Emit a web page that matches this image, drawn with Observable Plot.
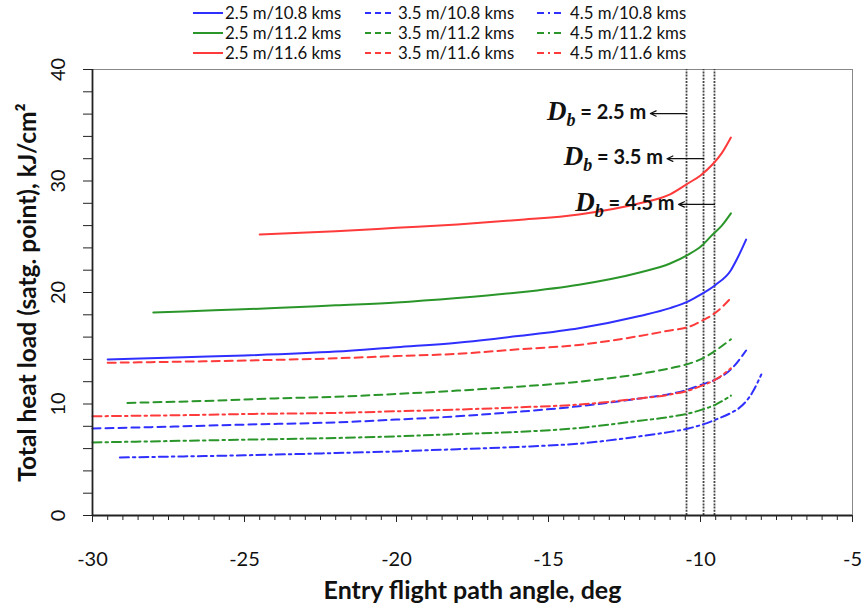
<!DOCTYPE html>
<html>
<head>
<meta charset="utf-8">
<script src="https://cdn.jsdelivr.net/npm/d3@7"></script>
<script src="https://cdn.jsdelivr.net/npm/@observablehq/plot@0.6"></script>
<style>
  html, body { margin: 0; padding: 0; background: #fff; }
  #legend { width: 863px; height: 62px; }
  #chart svg { overflow: visible; display: block; }
</style>
</head>
<body>
<div id="legend"></div>
<div id="chart"></div>
<script>
// ---------- data ----------
const velocities = ["10.8", "11.2", "11.6"];
const diameters = ["2.5", "3.5", "4.5"];

// 2.5 m
const x_25_108 = [-29.5, -27, -25, -22, -20, -18, -16, -14, -12, -11, -10.4, -10, -9.5, -9, -8.8, -8.5];
const y_25_108 = [14.0, 14.2, 14.35, 14.7, 15.1, 15.5, 16.1, 16.8, 17.9, 18.6, 19.2, 19.8, 20.7, 22.0, 23.0, 24.75];
const x_25_112 = [-28, -26, -24, -22, -20, -18, -16, -14, -12, -11, -10.4, -10, -9.6, -9.3, -9.0];
const y_25_112 = [18.2, 18.4, 18.6, 18.85, 19.1, 19.5, 20.0, 20.7, 21.8, 22.6, 23.4, 24.1, 25.2, 26.0, 27.1];
const x_25_116 = [-24.5, -22, -20, -18, -16, -14, -12, -11, -10.4, -10, -9.6, -9.3, -9.0];
const y_25_116 = [25.2, 25.5, 25.8, 26.1, 26.5, 27.0, 28.0, 28.8, 29.8, 30.5, 31.5, 32.5, 33.9];

// 3.5 m
const x_35_108 = [-30, -27, -25, -22, -20, -18, -16, -14, -12, -11, -10.4, -10, -9.5, -9, -8.5];
const y_35_108 = [7.8, 8.0, 8.15, 8.35, 8.6, 8.9, 9.3, 9.8, 10.5, 10.9, 11.3, 11.7, 12.2, 13.1, 14.8];
const x_35_112 = [-28.85, -26, -24, -22, -20, -18, -16, -14, -12, -11, -10.4, -10, -9.5, -9.0];
const y_35_112 = [10.1, 10.3, 10.5, 10.65, 10.9, 11.2, 11.55, 12.0, 12.7, 13.2, 13.6, 14.0, 14.8, 15.8];
const x_35_116 = [-29.5, -27, -25, -22, -20, -18, -16, -14, -12, -11, -10.4, -10, -9.5, -9.0];
const y_35_116 = [13.7, 13.8, 13.9, 14.1, 14.3, 14.5, 14.9, 15.3, 16.1, 16.6, 16.9, 17.4, 18.2, 19.5];

// 4.5 m
const x_45_108 = [-29.1, -27, -25, -22, -20, -18, -16, -14, -12, -11, -10.4, -10, -9.5, -9, -8.7, -8.3, -8.0];
const y_45_108 = [5.2, 5.3, 5.4, 5.6, 5.75, 5.95, 6.15, 6.45, 7.1, 7.5, 7.8, 8.1, 8.6, 9.2, 9.7, 11.0, 12.65];
const x_45_112 = [-30, -27, -25, -22, -20, -18, -16, -14, -12, -11, -10.4, -10, -9.5, -9.0];
const y_45_112 = [6.55, 6.7, 6.8, 6.95, 7.1, 7.3, 7.5, 7.85, 8.5, 8.85, 9.15, 9.45, 9.95, 10.75];
const x_45_116 = [-30, -27, -25, -22, -20, -18, -16, -14, -12, -11, -10.4, -10, -9.5, -9.0];
const y_45_116 = [8.9, 9.0, 9.1, 9.2, 9.35, 9.5, 9.7, 9.95, 10.5, 10.85, 11.2, 11.6, 12.2, 13.2];

// D_b limit lines and their labels
const dbLineX = [-10.46, -9.9, -9.54];
const dbHeadX = [-11.65, -11.1, -10.72];
const dbArrowY = [36.05, 32.0, 27.9];
const dbLabels = ["2.5 m", "3.5 m", "4.5 m"];

const xMajorTicks = [-30, -25, -20, -15, -10, -5];
const xMinorTicks = d3.range(-30, -4.99, 0.5);
const yMajorTicks = [0, 10, 20, 30, 40];
const yMinorTicks = d3.range(0, 40.01, 2);

const xTitle = "Entry flight path angle, deg";
const yTitle = "Total heat load (satg. point), kJ/cm²";

// ---------- build table ----------
const raw = {
  "2.5": {"10.8": [x_25_108, y_25_108], "11.2": [x_25_112, y_25_112], "11.6": [x_25_116, y_25_116]},
  "3.5": {"10.8": [x_35_108, y_35_108], "11.2": [x_35_112, y_35_112], "11.6": [x_35_116, y_35_116]},
  "4.5": {"10.8": [x_45_108, y_45_108], "11.2": [x_45_112, y_45_112], "11.6": [x_45_116, y_45_116]}
};
const rows = [];
for (const d of diameters) for (const v of velocities) {
  const [xs, ys] = raw[d][v];
  xs.forEach((x, i) => rows.push({d, v, name: `${d} m/${v} kms`, x, y: ys[i]}));
}
const arrows = dbLabels.map((label, i) => ({label, x1: dbLineX[i], x2: dbHeadX[i], y: dbArrowY[i]}));

// ---------- styles ----------
const colorOf = {"10.8": "#2f2fff", "11.2": "#2a962a", "11.6": "#ff3a3a"};
const dashOf = {"2.5": null, "3.5": "8,5", "4.5": "9,4,2.5,4"};
const SANS = "Lato, 'Liberation Sans', sans-serif";

// ---------- legend ----------
const leg = d3.select("#legend").append("svg").attr("width", 863).attr("height", 62);
const colX = [193, 365, 537];
const rowY = [13, 33, 53];
diameters.forEach((d, ci) => velocities.forEach((v, ri) => {
  const g = leg.append("g").attr("transform", `translate(${colX[ci]},${rowY[ri]})`);
  g.append("line").attr("x1", 0).attr("x2", ci === 0 ? 30 : 27).attr("y1", 0).attr("y2", 0)
    .attr("stroke", colorOf[v]).attr("stroke-width", 2)
    .attr("stroke-dasharray", dashOf[d] ? (ci === 1 ? "6,4" : "7,4,2,4") : null);
  g.append("text").attr("x", ci === 0 ? 32 : 33).attr("y", 0).attr("dy", "0.36em")
    .attr("font-family", SANS).attr("font-size", 16.8).attr("fill", "#111")
    .text(`${d} m/${v} kms`);
}));

// ---------- plot ----------
const marks = [
  Plot.frame({stroke: "#888", strokeWidth: 1}),
  Plot.ruleX(dbLineX, {x: d => d, y1: 0, y2: 40, stroke: "#444", strokeWidth: 1.8, strokeDasharray: "2,1.2"}),
  ...diameters.map(d => Plot.line(rows.filter(r => r.d === d), {
    x: "x", y: "y", z: "v", stroke: r => colorOf[r.v], strokeWidth: 2,
    strokeDasharray: dashOf[d] || undefined, curve: "monotone-x"
  })),
  Plot.arrow(arrows, {x1: "x1", y1: "y", x2: "x2", y2: "y", stroke: "#111", strokeWidth: 1.2, headLength: 8, headAngle: 50}),
  Plot.text(arrows, {x: "x2", y: "y", text: "label", textAnchor: "end", dx: -4,
    fontSize: 20, fontWeight: "bold", fontFamily: SANS, fill: "#111", className: "dblabel"}),
  Plot.ruleX([-30], {stroke: "#222", strokeWidth: 1.8}),
  Plot.ruleY([0], {stroke: "#222", strokeWidth: 1.8}),
  Plot.axisX({ticks: xMinorTicks, tickSize: 5, tickFormat: () => "", stroke: "#222"}),
  Plot.axisX({ticks: xMajorTicks, tickSize: 7, tickPadding: 29, tickFormat: d => String(d),
    fontSize: 20, fontFamily: SANS, fill: "#111", stroke: "#222", label: null}),
  Plot.axisY({ticks: yMinorTicks, tickSize: 9, tickFormat: () => "", stroke: "#222", label: null}),
  Plot.text(yMajorTicks, {y: d => d, text: d => String(d), frameAnchor: "left", textAnchor: "middle",
    dx: -34, rotate: -90, fontSize: 20, fontFamily: SANS, fill: "#111"}),
  Plot.text([yTitle], {text: d => d, frameAnchor: "left", textAnchor: "middle", dx: -64, rotate: -90,
    fontSize: 24.5, fontWeight: "bold", fontFamily: SANS, fill: "#111"}),
  Plot.text([xTitle], {text: d => d, frameAnchor: "bottom", textAnchor: "middle", dy: 83,
    fontSize: 25, fontWeight: "bold", fontFamily: SANS, fill: "#111"})
];

const chart = Plot.plot({
  width: 863,
  height: 554,
  marginTop: 7,
  marginRight: 11,
  marginBottom: 101,
  marginLeft: 92,
  x: {domain: [-30, -5], axis: null},
  y: {domain: [0, 40], axis: null},
  style: {background: "#fff", fontFamily: SANS},
  marks
});
document.getElementById("chart").appendChild(chart);

// italic serif "D" with subscript "b" before each label
d3.select(chart).selectAll(".dblabel text").each(function () {
  const t = d3.select(this);
  const txt = t.text();
  t.text("");
  t.append("tspan").attr("font-family", "'Liberation Serif', serif").attr("font-style", "italic").attr("font-weight", "bold").attr("font-size", 27).text("D");
  t.append("tspan").attr("font-family", "'Liberation Serif', serif").attr("font-style", "italic").attr("font-weight", "bold").attr("font-size", 18).attr("dy", "0.35em").text("b");
  t.append("tspan").attr("dy", "-0.35em").text(" = " + txt);
});
</script>
</body>
</html>
